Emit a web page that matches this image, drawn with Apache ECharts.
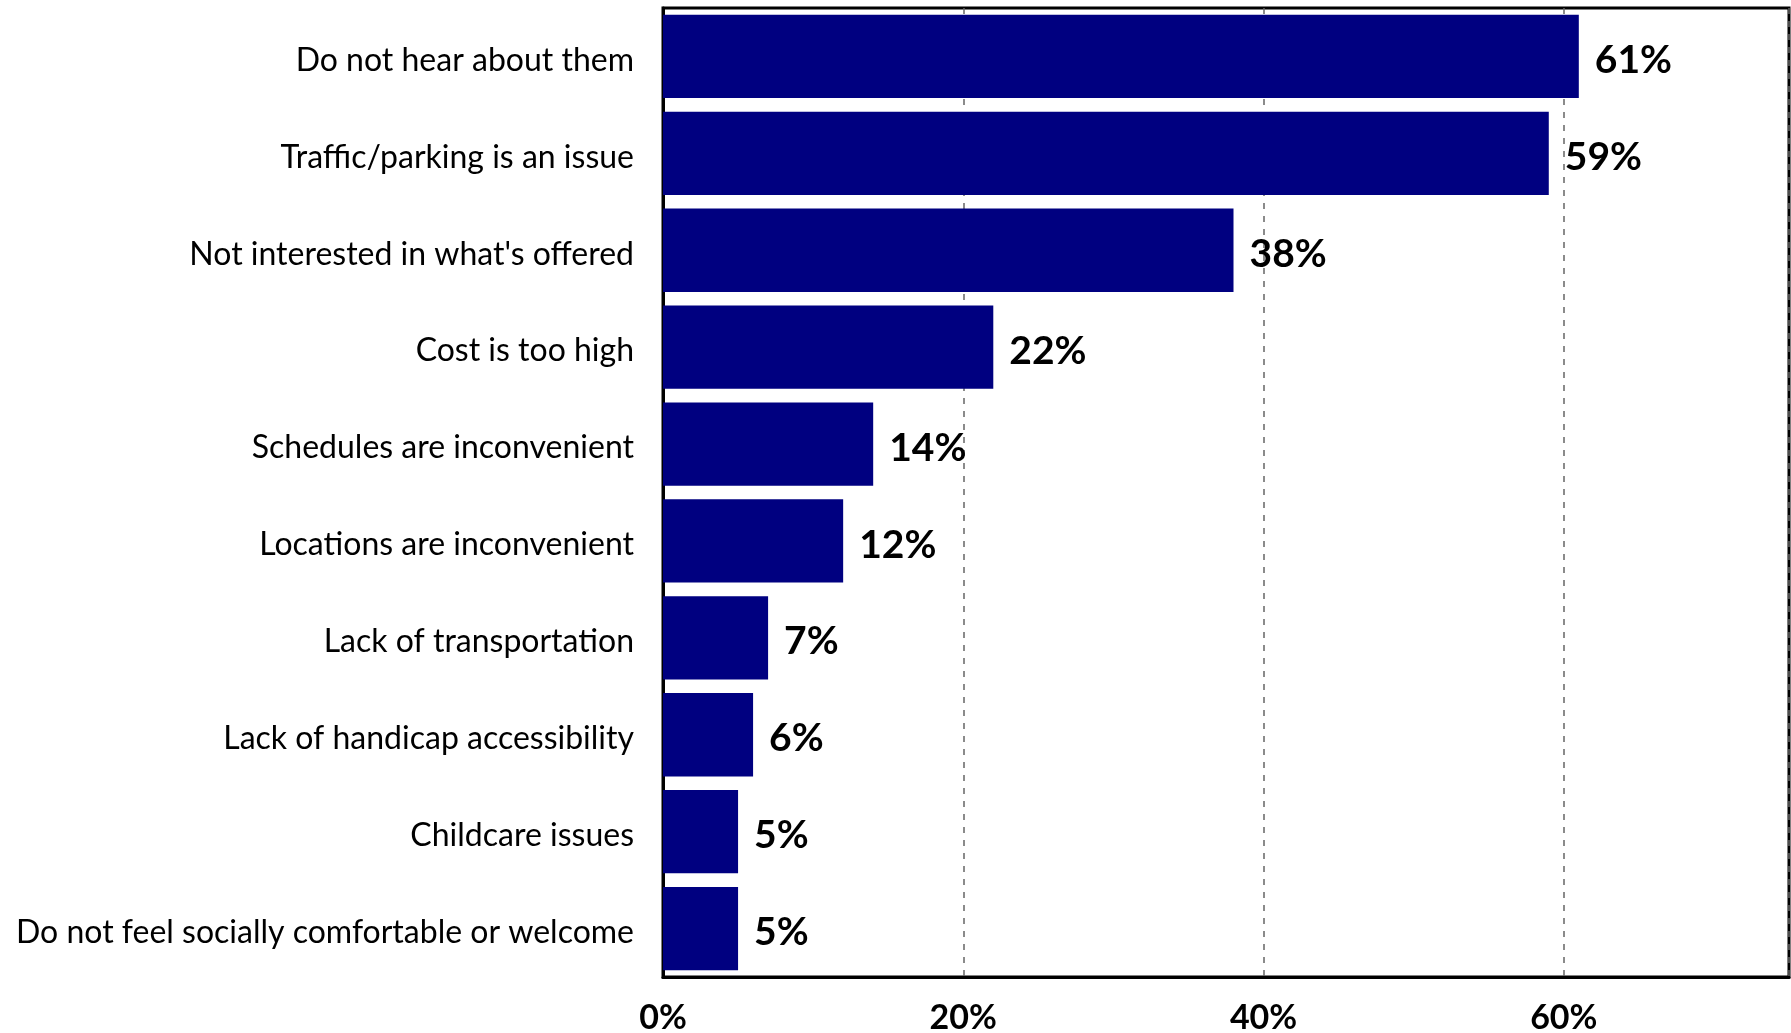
<!DOCTYPE html>
<html>
<head>
<meta charset="utf-8">
<script src="https://cdn.jsdelivr.net/npm/echarts@6/dist/echarts.min.js"></script>
<style>
  html, body { margin: 0; padding: 0; background: #fff; }
  #chart { width: 1791px; height: 1033px; }
</style>
</head>
<body>
<div id="chart"></div>
<script>
// Reasons for not attending events (share of respondents, %)
const categories = [
  'Do not hear about them',
  'Traffic/parking is an issue',
  "Not interested in what's offered",
  'Cost is too high',
  'Schedules are inconvenient',
  'Locations are inconvenient',
  'Lack of transportation',
  'Lack of handicap accessibility',
  'Childcare issues',
  'Do not feel socially comfortable or welcome'
];
const shares = [61, 59, 38, 22, 14, 12, 7, 6, 5, 5];
const xTicks = [0, 20, 40, 60];

const FONT = 'Lato';
const chart = echarts.init(document.getElementById('chart'), null, { renderer: 'canvas' });

chart.setOption({
  animation: false,
  backgroundColor: '#ffffff',
  grid: {
    left: 663, right: 2, top: 8, bottom: 56,
    containLabel: false,
    outerBoundsMode: 'none',
    show: true, borderColor: '#000', borderWidth: 3, backgroundColor: 'transparent'
  },
  xAxis: {
    type: 'value',
    min: xTicks[0],
    max: 75,
    interval: xTicks[1] - xTicks[0],
    axisLine: { show: true, lineStyle: { color: '#000', width: 3 } },
    axisTick: { show: false },
    axisLabel: {
      showMaxLabel: false,
      margin: 24,
      color: '#000',
      fontFamily: FONT,
      fontWeight: 'bold',
      fontSize: 34,
      formatter: v => xTicks.includes(v) ? v + '%' : ''
    },
    splitLine: { show: true, lineStyle: { color: '#666', width: 1.5, type: [6, 7] } }
  },
  yAxis: {
    type: 'category',
    inverse: true,
    data: categories,
    axisLine: { show: true, lineStyle: { color: '#000', width: 3 } },
    axisTick: { show: false },
    axisLabel: {
      margin: 29,
      formatter: v => '{c|' + v + '}',
      rich: {
        c: {
          color: '#000',
          fontFamily: FONT,
          fontSize: 32,
          padding: [8, 0, 0, 0]
        }
      }
    }
  },
  series: [{
    type: 'bar',
    data: shares,
    barCategoryGap: '14%',
    itemStyle: { color: '#000080' },
    label: {
      show: true,
      position: 'right',
      distance: 16,
      offset: [0, 4],
      color: '#000',
      fontFamily: FONT,
      fontWeight: 'bold',
      fontSize: 39,
      formatter: p => p.value + '%'
    }
  }]
});
</script>
</body>
</html>
